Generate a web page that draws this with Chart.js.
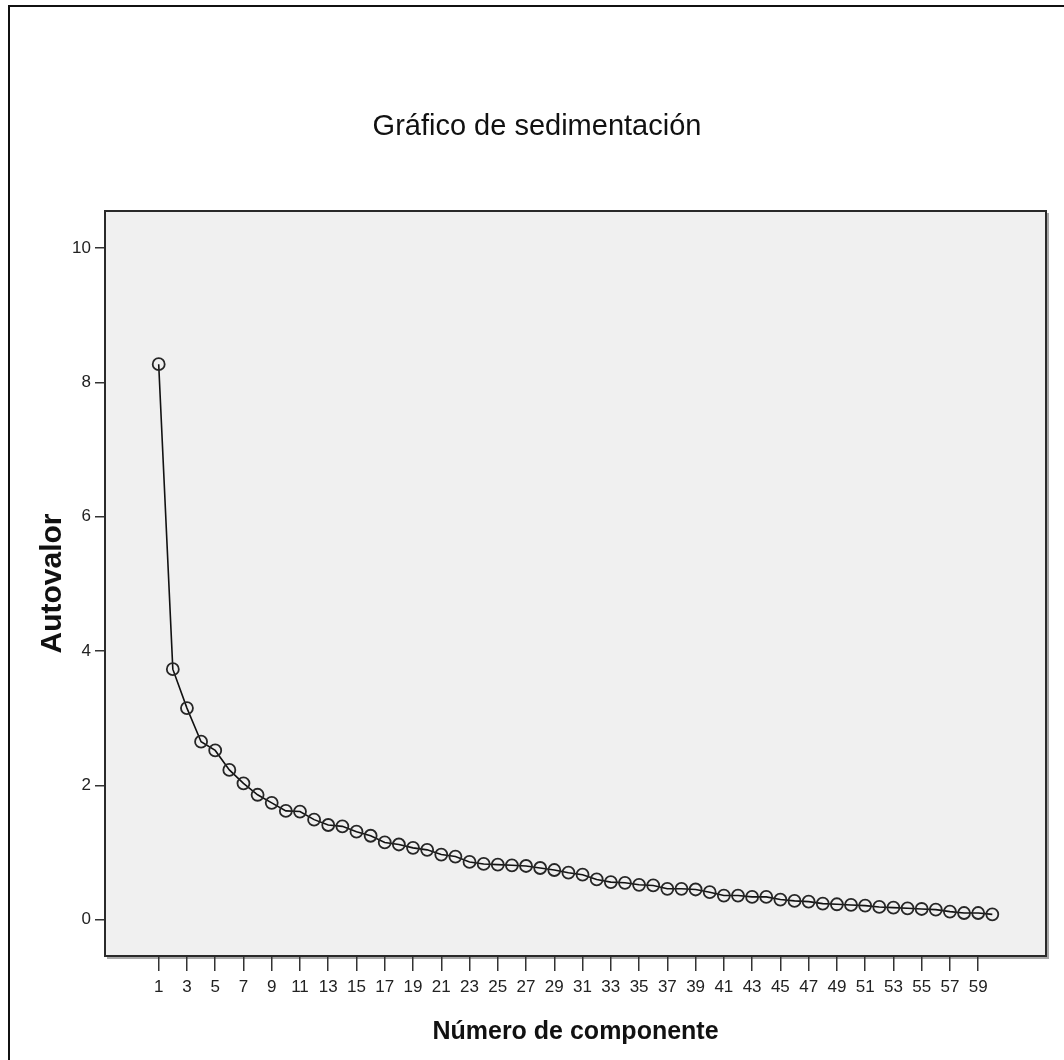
<!DOCTYPE html>
<html>
<head>
<meta charset="utf-8">
<script src="https://cdn.jsdelivr.net/npm/chart.js@4.4.1/dist/chart.umd.min.js"></script>
<style>
  html, body { margin: 0; padding: 0; background: #ffffff; overflow: hidden; }
  #frame { position: absolute; left: 8px; top: 5px; width: 2000px; height: 2000px;
           border-left: 2px solid #111; border-top: 2px solid #111; }
  #wrap { position: absolute; left: 0; top: 0; width: 1064px; height: 1060px; }
</style>
</head>
<body>
<div id="frame"></div>
<div id="wrap"><canvas id="c"></canvas></div>
<script>
const chartTitle = 'Gráfico de sedimentación';
const xAxisTitle = 'Número de componente';
const yAxisTitle = 'Autovalor';

const components = [1,2,3,4,5,6,7,8,9,10,11,12,13,14,15,16,17,18,19,20,
  21,22,23,24,25,26,27,28,29,30,31,32,33,34,35,36,37,38,39,40,
  41,42,43,44,45,46,47,48,49,50,51,52,53,54,55,56,57,58,59,60];

const eigenvalues = [8.27,3.73,3.15,2.65,2.52,2.23,2.03,1.86,1.74,1.62,
  1.61,1.49,1.41,1.39,1.31,1.25,1.15,1.12,1.07,1.04,
  0.97,0.94,0.86,0.83,0.82,0.81,0.80,0.77,0.74,0.70,
  0.67,0.60,0.56,0.55,0.52,0.51,0.46,0.46,0.45,0.41,
  0.36,0.36,0.34,0.34,0.30,0.28,0.27,0.24,0.23,0.22,
  0.21,0.19,0.18,0.17,0.16,0.15,0.12,0.10,0.10,0.08];

const xTickValues = [1,3,5,7,9,11,13,15,17,19,21,23,25,27,29,31,33,35,37,39,
  41,43,45,47,49,51,53,55,57,59];
const yTickValues = [0,2,4,6,8,10];

const points = components.map((c, i) => ({ x: c, y: eigenvalues[i] }));

const plotBg = {
  id: 'plotBg',
  beforeDraw(chart) {
    const { ctx, chartArea: a } = chart;
    ctx.save();
    ctx.fillStyle = '#a8a8a8';
    ctx.fillRect(a.left + 2, a.top + 2, a.right - a.left + 1, a.bottom - a.top + 1);
    ctx.fillStyle = '#f0f0f0';
    ctx.fillRect(a.left, a.top, a.right - a.left, a.bottom - a.top);
    ctx.restore();
  },
  beforeDatasetsDraw(chart) {
    const { ctx, chartArea: a } = chart;
    ctx.save();
    ctx.strokeStyle = '#2a2a2a';
    ctx.lineWidth = 2;
    ctx.strokeRect(a.left, a.top, a.right - a.left, a.bottom - a.top);
    ctx.restore();
  }
};

const fontFamily = '"Liberation Sans", Arial, "DejaVu Sans", sans-serif';

new Chart(document.getElementById('c'), {
  type: 'scatter',
  data: {
    datasets: [{
      data: points,
      showLine: true,
      borderColor: '#111111',
      borderWidth: 1.6,
      tension: 0,
      pointStyle: 'circle',
      pointRadius: 6,
      pointHoverRadius: 6,
      pointBorderWidth: 1.8,
      pointBorderColor: '#262626',
      pointBackgroundColor: 'rgba(0,0,0,0)'
    }]
  },
  options: {
    responsive: true,
    maintainAspectRatio: false,
    animation: false,
    layout: { padding: { left: 28, right: 18, top: 0, bottom: 0 } },
    plugins: {
      legend: { display: false },
      tooltip: { enabled: false },
      title: {
        display: true,
        text: chartTitle,
        color: '#111',
        font: { family: fontFamily, size: 29, weight: 'normal', lineHeight: 1.2 },
        padding: { top: 109.6, bottom: 66.6 }
      }
    },
    scales: {
      x: {
        type: 'linear',
        min: -2.8,
        max: 63.8,
        afterFit(s) { s.height = 104; },
        afterBuildTicks(s) { s.ticks = xTickValues.map(v => ({ value: v })); },
        border: { display: false },
        grid: { display: true, drawOnChartArea: false, drawTicks: true, tickLength: 15, color: '#333', lineWidth: 1.5 },
        ticks: { autoSkip: false, maxRotation: 0, minRotation: 0, padding: 6, color: '#222',
                 font: { family: fontFamily, size: 17 } },
        title: { display: true, text: xAxisTitle, color: '#111',
                 font: { family: fontFamily, size: 25, weight: 'bold', lineHeight: 1.2 },
                 padding: { top: 0, bottom: 13 } }
      },
      y: {
        type: 'linear',
        min: -0.54,
        max: 10.55,
        afterFit(s) { s.width = 77; },
        afterBuildTicks(s) { s.ticks = yTickValues.map(v => ({ value: v })); },
        border: { display: false },
        grid: { display: true, drawOnChartArea: false, drawTicks: true, tickLength: 10, color: '#333', lineWidth: 1.5 },
        ticks: { padding: 4, color: '#222', font: { family: fontFamily, size: 17 } },
        title: { display: true, text: yAxisTitle, color: '#111',
                 font: { family: fontFamily, size: 30, weight: 'bold', lineHeight: 1.2 },
                 padding: { top: 7, bottom: 0 } }
      }
    }
  },
  plugins: [plotBg]
});
</script>
</body>
</html>
